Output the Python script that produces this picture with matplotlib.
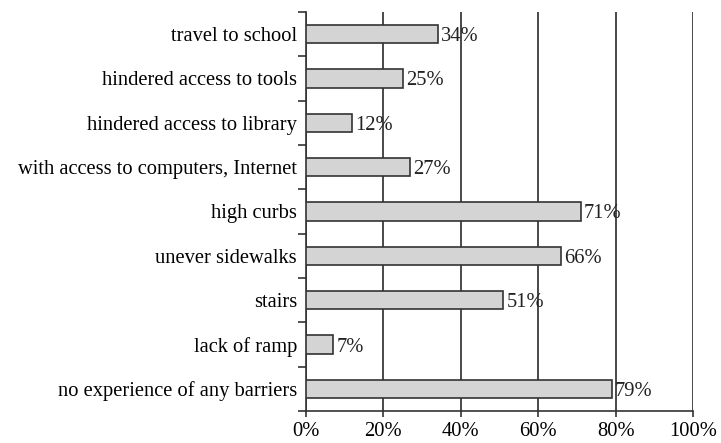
import numpy as np
import matplotlib.pyplot as plt
from matplotlib.ticker import FixedLocator

categories = ['no experience of any barriers', 'lack of ramp', 'stairs', 'unever sidewalks',
              'high curbs', 'with access to computers, Internet', 'hindered access to library',
              'hindered access to tools', 'travel to school']
values = [79, 7, 51, 66, 71, 27, 12, 25, 34]
xticks = [0, 20, 40, 60, 80, 100]

plt.rcParams['font.family'] = ['Liberation Serif', 'DejaVu Serif']
plt.rcParams['font.size'] = 14.8

fig = plt.figure(figsize=(7.21, 4.43), dpi=100)
ax = fig.add_axes([306 / 721, 1 - 411 / 443, 387 / 721, 399 / 443])

y = np.arange(len(categories))
ax.barh(y, values, height=0.42, color='#d4d4d4', edgecolor='#333333', linewidth=1.2, zorder=3)
for yi, v in zip(y, values):
    ax.text(v + 0.8, yi, '%d%%' % v, ha='left', va='center_baseline', color='#222222', zorder=4)

ax.set_xlim(0, 100)
ax.set_ylim(-0.5, len(categories) - 0.5)
ax.set_xticks(xticks)
ax.set_xticklabels(['%d%%' % t for t in xticks])
ax.set_yticks(y)
ax.set_yticklabels(categories)
ax.yaxis.set_minor_locator(FixedLocator(np.arange(-0.5, len(categories), 1.0)))
ax.tick_params(axis='y', which='major', length=0, pad=6.5)
ax.tick_params(axis='y', which='minor', length=6, width=1.2, color='#333333')
ax.tick_params(axis='x', length=4, width=1.2, color='#333333', pad=4)

ax.grid(axis='x', color='#2a2a2a', linewidth=1.2, zorder=0)
for s in ['top', 'right']:
    ax.spines[s].set_visible(False)
for s in ['left', 'bottom']:
    ax.spines[s].set_color('#333333')
    ax.spines[s].set_linewidth(1.2)

fig.savefig('out.png', dpi=100)
